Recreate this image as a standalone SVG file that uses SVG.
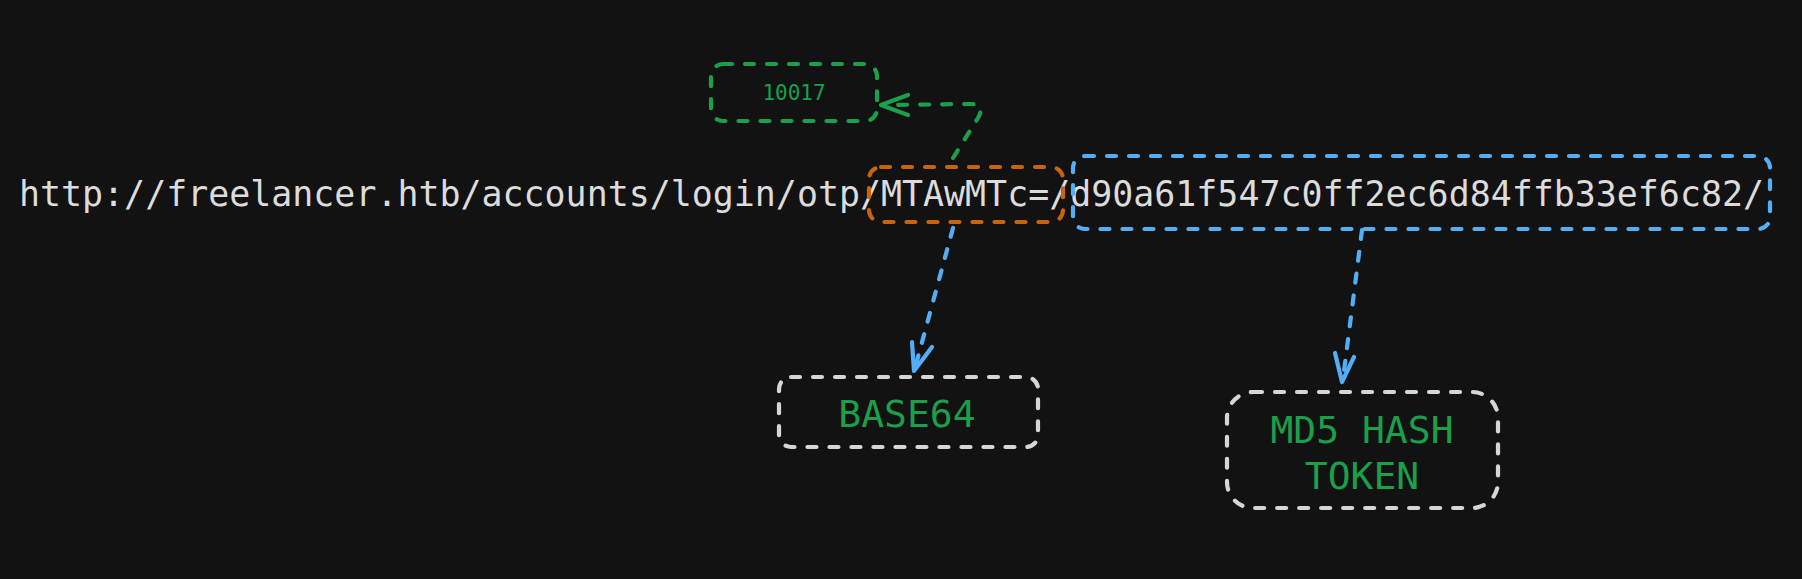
<svg xmlns="http://www.w3.org/2000/svg" width="1802" height="579" viewBox="0 0 1802 579">
<style>
.box{fill:none;stroke-width:4.2;stroke-dasharray:9 13;stroke-linecap:round;stroke-linejoin:round}
.line{fill:none;stroke-width:4.2;stroke-linecap:round;stroke-linejoin:round}
.dash{stroke-dasharray:9 13}
.mono{font-family:"DejaVu Sans Mono","Liberation Mono",monospace}
.url{fill:#dcdcdc;font-size:36px}
.lbl{fill:#1a9f4b;font-size:38px;text-anchor:middle}
</style>
<rect width="1802" height="579" fill="#121212"/>
<g id="url-text">
<text class="mono url" x="19" y="206" textLength="1745" lengthAdjust="spacingAndGlyphs">http://freelancer.htb/accounts/login/otp/MTAwMTc=/d90a61f547c0ff2ec6d84ffb33ef6c82/</text>
</g>
<g id="node-base64-part">
<rect class="box" x="869" y="167" width="194" height="55" rx="12" stroke="#c8640c"/>
</g>
<g id="node-hash-part">
<rect class="box" x="1073" y="156" width="697" height="73" rx="12" stroke="#54aef6"/>
</g>
<g id="node-10017">
<rect class="box" x="711" y="64" width="166" height="57" rx="12" stroke="#1a9f4b"/>
<text class="mono" x="794" y="100" font-size="21" fill="#1a9f4b" text-anchor="middle">10017</text>
</g>
<g id="node-base64">
<rect class="box" x="779" y="377" width="259" height="70" rx="12" stroke="#d6d6d6"/>
<text class="mono lbl" x="907" y="427">BASE64</text>
</g>
<g id="node-md5">
<rect class="box" x="1227" y="392" width="271" height="116" rx="26" stroke="#d6d6d6"/>
<text class="mono lbl" x="1362" y="443">MD5 HASH</text>
<text class="mono lbl" x="1362" y="489">TOKEN</text>
</g>
<g id="connectors">
<path class="line dash" d="M953,158 L978,118 Q986,104 970,104 L884,105" stroke="#1a9f4b"/>
<path class="line" d="M908,95 L881,105 L908,115" stroke="#1a9f4b"/>
<path class="line dash" d="M953,228 L915,368" stroke="#54aef6"/>
<path class="line" d="M912,342 L914,371 L932,347" stroke="#54aef6"/>
<path class="line dash" d="M1362,230 L1343,379" stroke="#54aef6"/>
<path class="line" d="M1335,353 L1342,382 L1354,357" stroke="#54aef6"/>
</g>
</svg>
